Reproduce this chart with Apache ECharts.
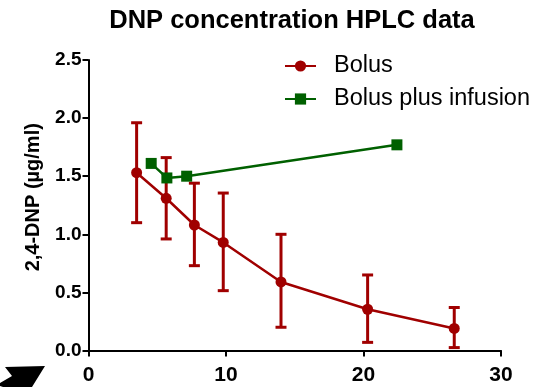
<!DOCTYPE html>
<html><head><meta charset="utf-8">
<script src="https://cdn.jsdelivr.net/npm/echarts@6/dist/echarts.min.js"></script>
<style>html,body{margin:0;padding:0;background:#fff}#c{width:549px;height:387px}</style>
</head><body><div id="c"></div>
<script>
const bolusX = [3.5, 5.65, 7.7, 9.8, 14.0, 20.3, 26.6];
const bolusY = [1.53, 1.31, 1.08, 0.93, 0.59, 0.355, 0.19];
const bolusHi = [1.96, 1.66, 1.44, 1.355, 1.00, 0.65, 0.37];
const bolusLo = [1.10, 0.96, 0.73, 0.515, 0.20, 0.07, 0.025];
const infX = [4.56, 5.7, 7.14, 22.43];
const infY = [1.61, 1.485, 1.50, 1.77];
const xTicks = [0, 10, 20, 30];
const yTicks = [0, 0.5, 1.0, 1.5, 2.0, 2.5];

const RED = '#a00000', GREEN = '#006000';
const font = 'Liberation Sans, Arial, sans-serif';
const chart = echarts.init(document.getElementById('c'));
const errData = bolusX.map((x, i) => [x, bolusLo[i], bolusHi[i]]);
chart.setOption({
  animation: false,
  title: {text: 'DNP concentration HPLC data', left: 287, textAlign: 'center', top: 3,
    textStyle: {fontFamily: font, fontSize: 25.5, fontWeight: 'bold', color: '#000'}},
  grid: {left: 88.5, right: 48, top: 60, bottom: 36.5},
  legend: {orient: 'vertical', left: 279, top: 49, itemGap: 9, itemWidth: 31, itemHeight: 14,
    textStyle: {fontFamily: font, fontSize: 23.5, color: '#000'},
    formatter: n => '  ' + n,
    data: ['Bolus', 'Bolus plus infusion']},
  xAxis: {type: 'value', min: xTicks[0], max: xTicks[xTicks.length-1], interval: 10,
    splitLine: {show: false},
    axisLine: {lineStyle: {color: '#000', width: 2}},
    axisTick: {show: true, length: 6, lineStyle: {color: '#000', width: 2}},
    axisLabel: {fontFamily: font, fontSize: 21, fontWeight: 'bold', color: '#000', margin: 14}},
  yAxis: {type: 'value', min: yTicks[0], max: yTicks[yTicks.length-1], interval: 0.5,
    name: '2,4-DNP (µg/ml)', nameLocation: 'middle', nameGap: 45.5,
    nameTextStyle: {fontFamily: font, fontSize: 20, fontWeight: 'bold', color: '#000', padding: [0,0,0,16]},
    splitLine: {show: false},
    axisLine: {show: true, lineStyle: {color: '#000', width: 2}},
    axisTick: {show: true, length: 6, lineStyle: {color: '#000', width: 2}},
    axisLabel: {fontFamily: font, fontSize: 19, fontWeight: 'bold', color: '#000', margin: 7,
      formatter: v => v.toFixed(1)}},
  series: [
    {name: 'Bolus', type: 'line', data: bolusX.map((x, i) => [x, bolusY[i]]),
      symbol: 'circle', symbolSize: 11, itemStyle: {color: RED},
      lineStyle: {color: RED, width: 2.5}, z: 3},
    {name: 'Bolus plus infusion', type: 'line', data: infX.map((x, i) => [x, infY[i]]),
      symbol: 'rect', symbolSize: 11, itemStyle: {color: GREEN},
      lineStyle: {color: GREEN, width: 2.5}, z: 4},
    {name: 'err', type: 'custom', data: errData, z: 2,
      renderItem: function (params, api) {
        const x = api.value(0);
        const lo = api.coord([x, api.value(1)]);
        const hi = api.coord([x, api.value(2)]);
        const w = 5.5;
        const st = {stroke: RED, lineWidth: 3};
        return {type: 'group', children: [
          {type: 'line', shape: {x1: lo[0], y1: lo[1], x2: hi[0], y2: hi[1]}, style: st},
          {type: 'line', shape: {x1: lo[0]-w, y1: lo[1], x2: lo[0]+w, y2: lo[1]}, style: st},
          {type: 'line', shape: {x1: hi[0]-w, y1: hi[1], x2: hi[0]+w, y2: hi[1]}, style: st}
        ]};
      }}
  ],
  graphic: [{type: 'polygon', shape: {points: [[5,367],[45,366],[32,387],[3,387],[0,386],[0,383],[12,376]]},
    style: {fill: '#000'}}]
});
</script></body></html>
